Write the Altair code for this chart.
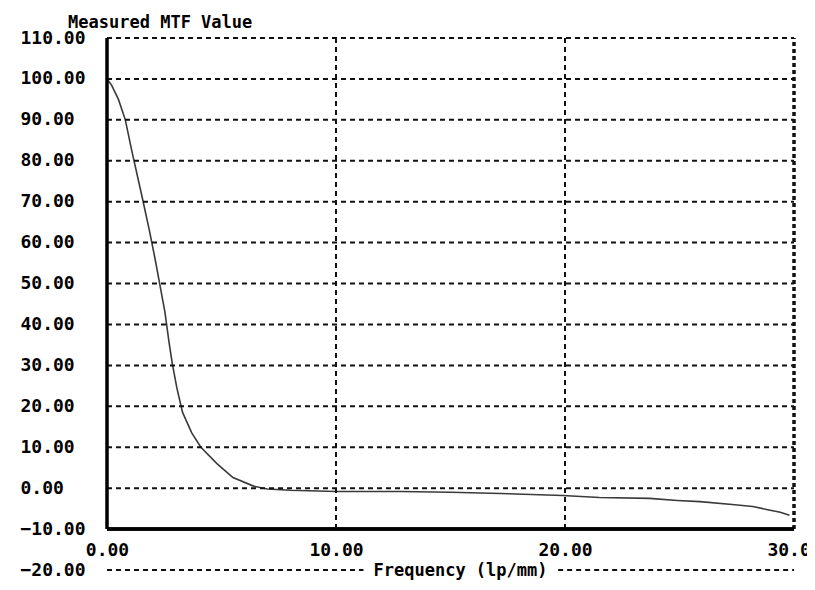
import altair as alt
import pandas as pd

# ---- data ----
freq = [0.0, 0.2, 0.5, 0.8, 1.1, 1.5, 1.85, 2.1, 2.3, 2.53, 2.7, 2.85, 3.05, 3.3, 3.7,
        4.1, 4.8, 5.5, 6.4, 7.0, 8.0, 10.0, 12.8, 15.0, 17.2, 19.9, 21.5, 23.7, 24.9,
        25.9, 27.3, 28.2, 28.8, 29.4, 29.8]
mtf = [100.0, 98.5, 95.0, 90.0, 82.0, 72.0, 63.0, 56.0, 50.0, 43.0, 36.0, 30.5, 24.5,
       18.5, 13.5, 10.0, 6.0, 2.6, 0.5, -0.2, -0.5, -0.8, -0.8, -1.0, -1.3, -1.8, -2.3,
       -2.5, -3.0, -3.3, -4.0, -4.5, -5.2, -5.9, -6.6]

y_ticks = [110, 100, 90, 80, 70, 60, 50, 40, 30, 20, 10, 0, -10, -20]
x_ticks = [0, 10, 20, 30]
h_grid = [110, 100, 90, 80, 70, 60, 50, 40, 30, 20, 10, 0]
v_grid = [10, 20]
low_line_start = [0.0, 19.7]
low_line_end = [11.2, 30.0]
chart_title = ["Measured MTF Value"]

FONT = "DejaVu Sans Mono"
FS = 18

x_scale = alt.Scale(domain=[0, 30], nice=False, zero=False)
y_scale = alt.Scale(domain=[-20, 110], nice=False, zero=False)

curve_df = pd.DataFrame({"freq": freq, "mtf": mtf})
hgrid_df = pd.DataFrame({"y": h_grid})
vgrid_df = pd.DataFrame({"x": v_grid})
low_df = pd.DataFrame({"x": low_line_start, "x2": low_line_end})
title_df = pd.DataFrame({"t": chart_title})

line = alt.Chart(curve_df).mark_line(color="#3a3a3a", strokeWidth=1.6).encode(
    x=alt.X("freq:Q", scale=x_scale, axis=alt.Axis(
        values=x_ticks, format=".2f", domain=False, ticks=False, grid=False,
        labelPadding=12, labelFont=FONT, labelFontSize=FS, labelFontWeight="bold",
        labelColor="black", labelFlush=False, labelOverlap=False, offset=-41,
        title="Frequency (lp/mm)", titleX=353, titleY=41, titleAlign="center",
        titleBaseline="middle", titleFont=FONT, titleFontSize=17,
        titleFontWeight="bold", titleColor="black")),
    y=alt.Y("mtf:Q", scale=y_scale, axis=alt.Axis(
        values=y_ticks, format=".2f", domain=False, ticks=False, grid=False,
        labelAlign="left", labelBaseline="middle", labelPadding=87,
        labelFont=FONT, labelFontSize=FS, labelFontWeight="bold",
        labelColor="black", labelFlush=False, labelOverlap=False, title=""))
)

dash = dict(color="#111111", strokeWidth=2, strokeDash=[5, 4])

hgrid = alt.Chart(hgrid_df).mark_rule(**dash).encode(
    y=alt.Y("y:Q", scale=y_scale), x=alt.datum(0), x2=alt.datum(30))

low = alt.Chart(low_df).mark_rule(**dash).encode(
    x=alt.X("x:Q", scale=x_scale), x2="x2:Q", y=alt.datum(-20))

vgrid = alt.Chart(vgrid_df).mark_rule(**dash).encode(
    x=alt.X("x:Q", scale=x_scale), y=alt.datum(-10), y2=alt.datum(110))

right_edge = alt.Chart(vgrid_df).mark_rule(color="#111111", strokeWidth=3,
                                            strokeDash=[4, 3]).encode(
    x=alt.datum(30), y=alt.datum(-10), y2=alt.datum(110))

left_axis = alt.Chart(vgrid_df).mark_rule(color="black", strokeWidth=3).encode(
    x=alt.datum(0), y=alt.datum(-10), y2=alt.datum(110))

bottom_axis = alt.Chart(vgrid_df).mark_rule(color="black", strokeWidth=3.5).encode(
    y=alt.datum(-10), x=alt.datum(0), x2=alt.datum(30))

title_text = alt.Chart(title_df).mark_text(
    font=FONT, fontSize=17, fontWeight="bold", color="black", align="left",
    baseline="middle", clip=False).encode(
    x=alt.datum(-1.7), y=alt.datum(113.7), text="t:N")

chart = alt.layer(line, hgrid, low, vgrid, right_edge, left_axis, bottom_axis,
                  title_text).properties(
    width=687, height=532,
    autosize=alt.AutoSizeParams(type="none"),
    padding={"left": 99, "top": 30, "right": 13, "bottom": 10},
    background="white",
).configure_view(stroke=None)

chart.save("out.html", embed_options={"renderer": "svg", "actions": False})
